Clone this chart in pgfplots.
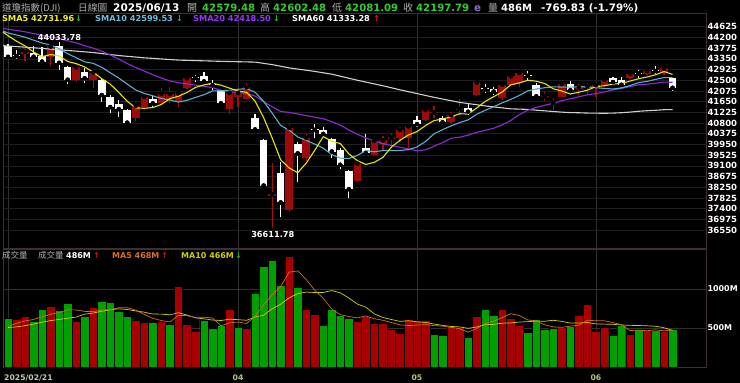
\documentclass[border=0pt]{standalone}
\usepackage{pgfplots}
\pgfplotsset{compat=1.18}
\usepackage{pgfplotstable}
\usepackage{fontspec}
\setmainfont{DejaVu Sans}
\newfontfamily\cjk{Noto Sans CJK TC}
\newcommand\fs[1]{\fontsize{#1}{#1}\selectfont}

\definecolor{upred}{HTML}{9C0A0A}
\definecolor{wickred}{HTML}{A80C0C}
\definecolor{vred}{HTML}{A80000}
\definecolor{vgreen}{HTML}{00A000}
\definecolor{smaA}{HTML}{E6E600}
\definecolor{smaB}{HTML}{5AAED0}
\definecolor{smaC}{HTML}{8E2BD8}
\definecolor{smaD}{HTML}{D0D0D0}
\definecolor{maA}{HTML}{D07020}
\definecolor{maB}{HTML}{D0D000}
\definecolor{hgrid}{HTML}{1E1E1E}
\definecolor{vgrid}{HTML}{303030}
\definecolor{border}{HTML}{3C3034}
\definecolor{hdrgreen}{HTML}{33CC33}
\definecolor{hdrgray}{HTML}{B0B0B0}
\definecolor{epurple}{HTML}{8E6FD0}
\definecolor{datecol}{HTML}{C8C8A8}
\definecolor{monthcol}{HTML}{C0C070}
\definecolor{txtA}{HTML}{F0F020}
\definecolor{txtB}{HTML}{66C0E0}
\definecolor{txtC}{HTML}{9933FF}
\definecolor{txtMA}{HTML}{E07020}
\definecolor{arrowred}{HTML}{E01010}
\definecolor{arrowgreen}{HTML}{20C020}

% down candles (close < open), white
\pgfplotstableread{
i O H L C
0 43860 43930 43360 43428
1 43510 43700 43340 43461
3 43600 43860 43340 43433
4 43470 43820 43200 43240
6 43860 44034 42900 43191
7 43030 43080 42340 42521
9 42840 42980 42390 42579
11 42510 42560 41640 41912
12 41850 41900 41200 41433
13 41560 41710 41040 41351
14 41320 41360 40720 40814
17 41750 41870 41450 41581
22 42620 42700 42440 42588
23 42670 42840 42400 42455
24 42360 42500 42100 42300
25 42080 42100 41550 41584
29 41000 41160 40470 40546
30 40130 40150 38270 38315
32 38800 39260 37080 37646
34 39960 40060 38440 39594
36 40560 40750 40190 40525
37 40530 40630 40280 40369
38 40170 40200 39420 39669
39 39730 39800 38970 39142
40 38900 38950 37830 38170
42 39800 40350 39550 39607
48 40920 41080 40650 40753
51 40990 41080 40720 40829
54 41390 41560 41130 41249
56 42190 42350 42000 42140
57 42140 42240 41910 42051
61 42710 42850 42510 42677
62 42320 42380 41790 41860
66 42340 42460 42050 42099
71 42580 42640 42400 42428
72 42510 42620 42160 42320
74 42800 42900 42600 42762
76 42910 43080 42750 42866
78 42579.48 42602.48 42081.09 42197.79
}\downdata

% up candles (close > open), red
\pgfplotstableread{
i O H L C
2 43560 43740 43260 43621
5 43420 43860 43080 43841
8 42510 43140 42430 43007
10 42510 42850 42200 42802
15 41000 41520 40900 41488
16 41450 41960 41420 41842
18 41590 42180 41560 41965
19 41750 42240 41610 41953
20 41690 42000 41420 41985
21 42180 42640 42150 42583
26 41340 42030 41160 42002
27 41850 42100 41450 41990
28 41750 42380 41700 42225
31 37900 39200 36612 37966
33 37350 40760 37280 40608
35 39400 40390 39290 40213
41 38500 39260 38450 39187
43 39530 40120 39480 40093
44 39950 40300 39720 40114
45 40180 40390 39860 40228
46 40190 40650 40060 40528
47 40200 40720 39730 40669
49 40920 41400 40880 41317
50 41180 41460 40990 41219
52 40850 41250 40800 41114
53 41300 41740 41120 41368
55 41910 42440 41880 42410
58 41780 42340 41700 42323
59 42310 42660 42290 42655
60 42380 42840 42230 42792
63 41820 42050 41680 41859
64 41560 41780 41330 41603
65 41850 42380 41820 42344
67 42150 42350 41910 42216
68 42200 42400 41900 42270
69 42240 42330 41820 42305
70 42310 42560 42250 42520
73 42600 42880 42560 42763
75 42740 42920 42700 42867
77 42770 42990 42700 42968
}\updata

\pgfplotstableread{
i s5 s10 s20
-1 44524 44510 44582
0 44267 44378 44526
1 44050 44294 44477
2 43863 44209 44423
3 43624 44093 44352
4 43437 43980 44278
5 43519 43893 44226
6 43465 43758 44158
7 43245 43554 44063
8 43160 43392 43986
9 43028 43232 43871
10 42820 43170 43774
11 42564 43015 43654
12 42347 42796 43503
13 42015 42588 43340
14 41662 42345 43163
15 41400 42110 43001
16 41386 41975 42866
17 41415 41881 42718
18 41538 41777 42584
19 41766 41714 42473
20 41865 41632 42401
21 42013 41700 42357
22 42215 41815 42305
23 42313 41925 42257
24 42382 42074 42210
25 42302 42084 42097
26 42186 42100 42037
27 42066 42141 42011
28 42020 42167 41972
29 41669 42026 41870
30 41016 41659 41646
31 40208 41197 41448
32 39340 40703 41259
33 39016 40518 41222
34 38826 40248 41161
35 39205 40111 41097
36 39717 39963 41031
37 40262 39801 40971
38 40074 39545 40856
39 39984 39405 40715
40 39575 39390 40525
41 39307 39512 40355
42 39155 39708 40206
43 39240 39657 40088
44 39434 39709 39978
45 39846 39710 39910
46 40114 39711 39837
47 40326 39741 39771
48 40458 39849 39697
49 40699 40067 39736
50 40897 40372 39881
51 40957 40536 40024
52 41046 40686 40197
53 41169 40814 40235
54 41156 40927 40318
55 41394 41146 40428
56 41656 41307 40509
57 41844 41445 40593
58 42035 41602 40726
59 42316 41736 40901
60 42392 41893 41132
61 42500 42078 41307
62 42461 42153 41419
63 42369 42202 41508
64 42158 42237 41582
65 42069 42230 41688
66 41953 42226 41767
67 42024 42243 41844
68 42106 42238 41920
69 42247 42203 41969
70 42282 42175 42034
71 42348 42150 42114
72 42369 42196 42174
73 42467 42287 42244
74 42559 42403 42320
75 42628 42455 42343
76 42716 42532 42379
77 42845 42607 42425
78 42732 42600 42419
}\smadata

\pgfplotstableread{
i s60
-1 43880
0 43860
3 43790
6 43710
10 43600
13 43480
16 43390
20 43300
25 43250
29 43220
31 43120
33 42990
36 42850
38 42740
41 42500
44 42280
46 42120
48 41970
50 41820
53 41620
56 41480
59 41363
60 41353
61 41340
62 41310
63 41284
64 41257
65 41232
66 41214
67 41208
68 41196
69 41192
70 41187
71 41195
72 41210
73 41234
74 41266
75 41289
76 41306
77 41329
78 41333
}\smasixty

\pgfplotstableread{
i v
1 612
2 650
5 782
8 587
10 765
15 604
16 570
18 582
20 1033
21 553
22 459
26 740
28 502
33 1420
35 744
36 676
41 587
42 650
43 565
44 565
45 485
46 438
47 608
48 595
49 595
52 523
53 506
55 650
58 740
59 625
60 540
65 506
67 667
68 803
69 459
70 506
73 421
75 468
77 463
}\volred

\pgfplotstableread{
i v
0 625
3 591
4 740
6 731
7 820
9 646
11 842
12 829
13 718
14 650
17 574
19 553
23 599
24 497
25 536
27 514
29 952
30 1292
31 1364
32 1054
34 1029
37 531
38 740
39 663
40 629
50 421
51 408
54 378
56 735
57 663
61 446
62 608
63 480
64 502
66 523
71 412
72 536
74 489
76 472
78 486
}\volgreen

\pgfplotstableread{
i ma5 ma10
0 520 506
1 560 515
2 590 530
3 610 550
4 644 575
5 675 595
6 699 610
7 733 625
8 732 640
9 713 678
10 710 692
11 732 715
12 734 733
13 760 746
14 761 737
15 729 719
16 674 703
17 623 679
18 596 678
19 577 669
20 662 696
21 659 667
22 636 630
23 639 618
24 628 602
25 529 596
26 566 613
27 577 607
28 558 599
29 649 639
30 800 664
31 925 746
32 1033 805
33 1216 887
34 1232 940
35 1122 961
36 985 955
37 880 956
38 744 980
39 671 951
40 648 885
41 630 807
42 654 767
43 619 681
44 599 635
45 570 609
46 541 585
47 532 593
48 538 579
49 544 572
50 531 551
51 525 533
52 508 520
53 491 514
54 447 496
55 493 512
56 558 542
57 586 547
58 633 562
59 683 565
60 661 577
61 603 581
62 592 589
63 540 587
64 515 599
65 508 585
66 524 563
67 536 564
68 600 570
69 592 553
70 592 550
71 569 547
72 543 539
73 467 534
74 473 532
75 465 528
76 477 523
77 463 503
78 476 471
}\volma

\begin{document}
\begin{tikzpicture}[x=1pt,y=1pt]
\useasboundingbox (0,0) rectangle (740,-383);
\fill[black] (0,0) rectangle (740,-383);

% ---------------- price panel ----------------
\begin{axis}[
  at={(3pt,-13pt)}, anchor=north west,
  scale only axis, width=703pt, height=235pt,
  xmin=-0.587, xmax=81.92, ymin=35836, ymax=45170,
  scaled y ticks=false, scaled x ticks=false,
  axis line style={draw=border, line width=0.8pt},
  xtick={0,27,48,69}, xticklabels={},
  ytick={36550,36975,37400,37825,38250,38675,39100,39525,39950,40375,40800,41225,41650,42075,42500,42925,43350,43775,44200,44625},
  yticklabels={36550,36975,37400,37825,38250,38675,39100,39525,39950,40375,40800,41225,41650,42075,42500,42925,43350,43775,44200,44625},
  yticklabel pos=right,
  yticklabel style={font=\bfseries\fs{8.5}, text=white, xshift=-2pt},
  major tick length=0pt,
  xmajorgrids, ymajorgrids,
  x grid style={draw=vgrid, line width=0.7pt},
  y grid style={draw=hgrid, line width=0.6pt},
]
% wicks
\addplot[only marks, mark=none, error bars/.cd, y dir=both, y explicit, error mark=none,
  error bar style={draw=white, line width=1.2pt}]
  table[x=i, y=C, y error plus expr=\thisrow{H}-\thisrow{C}, y error minus expr=\thisrow{C}-\thisrow{L}] {\downdata};
\addplot[only marks, mark=none, error bars/.cd, y dir=both, y explicit, error mark=none,
  error bar style={draw=wickred, line width=1.2pt}]
  table[x=i, y=C, y error plus expr=\thisrow{H}-\thisrow{C}, y error minus expr=\thisrow{C}-\thisrow{L}] {\updata};
% bodies
\addplot[only marks, mark=none, error bars/.cd, y dir=plus, y explicit, error mark=none,
  error bar style={draw=white, line width=7.6pt}]
  table[x=i, y=C, y error plus expr=\thisrow{O}-\thisrow{C}] {\downdata};
\addplot[only marks, mark=none, error bars/.cd, y dir=minus, y explicit, error mark=none,
  error bar style={draw=upred, line width=7.6pt}]
  table[x=i, y=C, y error minus expr=\thisrow{C}-\thisrow{O}] {\updata};
% moving averages
\addplot[draw=smaD, line width=1.1pt] table[x=i, y=s60] {\smasixty};
\addplot[draw=smaC, line width=1.1pt] table[x=i, y=s20] {\smadata};
\addplot[draw=smaB, line width=1.1pt] table[x=i, y=s10] {\smadata};
\addplot[draw=smaA, line width=1.1pt] table[x=i, y=s5] {\smadata};
\end{axis}

% ---------------- volume panel ----------------
\begin{axis}[
  at={(3pt,-249pt)}, anchor=north west,
  scale only axis, width=703pt, height=118pt,
  xmin=-0.587, xmax=81.92, ymin=0, ymax=1513,
  scaled y ticks=false, scaled x ticks=false,
  axis line style={draw=border, line width=0.8pt},
  xtick={0,27,48,69}, xticklabels={,04,05,06},
  xticklabel style={font=\bfseries\fs{7.7}, text=monthcol, anchor=base, yshift=-13.3pt},
  ytick={500,1000}, yticklabels={500M,1000M},
  yticklabel pos=right,
  yticklabel style={font=\bfseries\fs{8}, text=white, xshift=-2pt},
  major tick length=0pt,
  xmajorgrids, ymajorgrids,
  x grid style={draw=vgrid, line width=0.7pt},
  y grid style={draw=vgrid, line width=0.6pt},
]
\addplot[ybar, bar width=1, bar shift=0pt, fill=vred, draw=black, line width=0.4pt] table[x=i, y=v] {\volred};
\addplot[ybar, bar width=1, bar shift=0pt, fill=vgreen, draw=black, line width=0.4pt] table[x=i, y=v] {\volgreen};
\addplot[draw=maB, line width=0.7pt] table[x=i, y=ma10] {\volma};
\addplot[draw=maA, line width=0.7pt] table[x=i, y=ma5] {\volma};
\end{axis}

% ---------------- header row 1 ----------------
\begin{scope}[every node/.style={anchor=base west, inner sep=0pt}]
\node[text=hdrgray, font=\cjk\fs{9.5}] at (2,-11.7) {道瓊指數(DJI)};
\node[text=hdrgray, font=\cjk\fs{9.7}] at (78,-11.7) {日線圖};
\node[text=white, font=\bfseries\fs{10.5}] at (113,-11.7) {2025/06/13};
\node[text=hdrgray, font=\cjk\fs{10}] at (187,-11.7) {開};
\node[text=hdrgreen, font=\bfseries\fs{10.1}] at (202,-11.7) {42579.48};
\node[text=hdrgray, font=\cjk\fs{10}] at (260,-11.7) {高};
\node[text=hdrgreen, font=\bfseries\fs{10.1}] at (273,-11.7) {42602.48};
\node[text=hdrgray, font=\cjk\fs{10}] at (332,-11.7) {低};
\node[text=hdrgreen, font=\bfseries\fs{10.1}] at (345,-11.7) {42081.09};
\node[text=hdrgray, font=\cjk\fs{10}] at (403,-11.7) {收};
\node[text=hdrgreen, font=\bfseries\fs{10.1}] at (416,-11.7) {42197.79};
\node[text=epurple, font=\bfseries\fs{10.3}] at (474,-11.7) {e};
\node[text=hdrgray, font=\cjk\fs{10}] at (488,-11.7) {量};
\node[text=white, font=\bfseries\fs{10}] at (501,-11.7) {486M};
\node[text=white, font=\bfseries\fs{10.3}] at (541,-11.7) {-769.83 (-1.79\%)};
% row 2
\node[text=txtA, font=\bfseries\fs{8.2}] at (2,-21.7) {SMA5 42731.96};
\node[text=arrowgreen, font=\bfseries\fs{8.2}] at (75,-21.7) {↓};
\node[text=txtB, font=\bfseries\fs{8.2}] at (95,-21.7) {SMA10 42599.53};
\node[text=arrowgreen, font=\bfseries\fs{8.2}] at (176,-21.7) {↓};
\node[text=txtC, font=\bfseries\fs{8.2}] at (193,-21.7) {SMA20 42418.50};
\node[text=arrowgreen, font=\bfseries\fs{8.2}] at (273,-21.7) {↓};
\node[text=white, font=\bfseries\fs{8.2}] at (292,-21.7) {SMA60 41333.28};
\node[text=arrowred, font=\bfseries\fs{8.2}] at (373,-21.7) {↑};
% volume header
\node[text=hdrgray, font=\cjk\fs{8.5}] at (2,-258.3) {成交量};
\node[text=hdrgray, font=\cjk\fs{8.5}] at (38,-258.3) {成交量};
\node[text=white, font=\bfseries\fs{8}] at (66,-258.3) {486M};
\node[text=arrowred, font=\bfseries\fs{8}] at (93,-258.3) {↑};
\node[text=txtMA, font=\bfseries\fs{8}] at (112,-258.3) {MA5 468M};
\node[text=arrowred, font=\bfseries\fs{8}] at (161,-258.3) {↑};
\node[text=maB, font=\bfseries\fs{8}] at (181,-258.3) {MA10 466M};
\node[text=arrowgreen, font=\bfseries\fs{8}] at (235,-258.3) {↓};
% first date label
\node[text=datecol, font=\bfseries\fs{7.7}] at (4,-380.3) {2025/02/21};
\end{scope}
% extreme value annotations
\node[anchor=base, inner sep=0pt, text=white, font=\bfseries\fs{8.2}] at (59.5,-40) {44033.78};
\node[anchor=base, inner sep=0pt, text=white, font=\bfseries\fs{8.2}] at (272.8,-237.3) {36611.78};
\end{tikzpicture}
\end{document}
